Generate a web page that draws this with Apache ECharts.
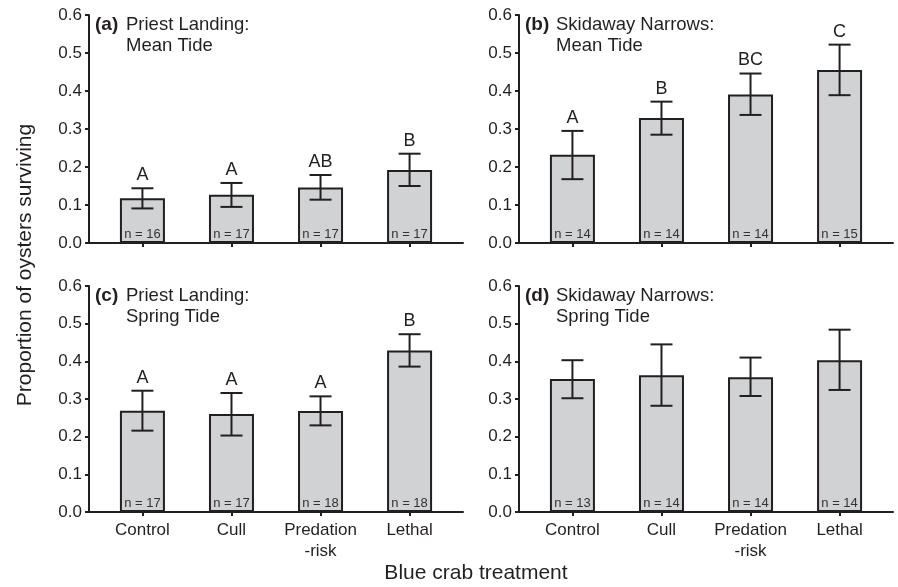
<!DOCTYPE html>
<html>
<head>
<meta charset="utf-8">
<script src="https://cdn.jsdelivr.net/npm/echarts@6/dist/echarts.min.js"></script>
<style>html,body{margin:0;padding:0;background:#fff;}#c{width:898px;height:587px;}</style>
</head>
<body>
<div id="c"></div>
<script>
const categories = ['Control', 'Cull', 'Predation\n-risk', 'Lethal'];
const yTicks = [0, 0.1, 0.2, 0.3, 0.4, 0.5, 0.6];

// (a) Priest Landing: Mean Tide
const meanA = [0.118, 0.127, 0.146, 0.192];
const lowA  = [0.091, 0.095, 0.114, 0.150];
const highA = [0.144, 0.158, 0.179, 0.235];
const lettersA = ['A', 'A', 'AB', 'B'];
const nA = [16, 17, 17, 17];

// (b) Skidaway Narrows: Mean Tide
const meanB = [0.232, 0.329, 0.391, 0.455];
const lowB  = [0.168, 0.285, 0.337, 0.389];
const highB = [0.295, 0.372, 0.446, 0.522];
const lettersB = ['A', 'B', 'BC', 'C'];
const nB = [14, 14, 14, 15];

// (c) Priest Landing: Spring Tide
const meanC = [0.269, 0.260, 0.268, 0.429];
const lowC  = [0.216, 0.203, 0.230, 0.386];
const highC = [0.322, 0.316, 0.307, 0.472];
const lettersC = ['A', 'A', 'A', 'B'];
const nC = [17, 17, 18, 18];

// (d) Skidaway Narrows: Spring Tide
const meanD = [0.353, 0.363, 0.358, 0.403];
const lowD  = [0.302, 0.282, 0.308, 0.324];
const highD = [0.403, 0.445, 0.410, 0.484];
const lettersD = ['', '', '', ''];
const nD = [13, 14, 14, 14];

const panelTags = ['(a)', '(b)', '(c)', '(d)'];
const panelTitles = ['Priest Landing:\nMean Tide', 'Skidaway Narrows:\nMean Tide', 'Priest Landing:\nSpring Tide', 'Skidaway Narrows:\nSpring Tide'];

const FONT = 'Liberation Sans, Arial, Helvetica, sans-serif';
const INK = '#231f20';

const panels = [
  {mean: meanA, low: lowA, high: highA, letters: lettersA, n: nA},
  {mean: meanB, low: lowB, high: highB, letters: lettersB, n: nB},
  {mean: meanC, low: lowC, high: highC, letters: lettersC, n: nC},
  {mean: meanD, low: lowD, high: highD, letters: lettersD, n: nD}
];

const gridPos = [
  {left: 89, top: 15, width: 374, height: 228},
  {left: 519, top: 15, width: 374, height: 228},
  {left: 89, top: 286, width: 374, height: 226},
  {left: 519, top: 286, width: 374, height: 226}
];

const catIdx = categories.map((c, i) => i);

const grid = gridPos.map(g => Object.assign({containLabel: false}, g));
const xAxis = gridPos.map((g, k) => ({
  type: 'value', gridIndex: k, min: -0.6, max: 3.6,
  splitLine: {show: false},
  axisLine: {show: true, onZero: false, lineStyle: {color: INK, width: 2}},
  axisTick: {show: true, customValues: catIdx, length: 4, inside: false, lineStyle: {color: INK, width: 2}},
  axisLabel: {show: k >= 2, customValues: catIdx, formatter: v => categories[Math.round(v)],
    fontFamily: FONT, fontSize: 17, color: INK, lineHeight: 21, margin: 8}
}));
const yAxis = gridPos.map((g, k) => ({
  type: 'value', gridIndex: k, min: 0, max: 0.6, interval: 0.1,
  splitLine: {show: false},
  axisLine: {show: true, onZero: false, lineStyle: {color: INK, width: 2}},
  axisTick: {show: true, length: 4, lineStyle: {color: INK, width: 2}},
  axisLabel: {fontFamily: FONT, fontSize: 17, color: INK, margin: 7, formatter: v => v.toFixed(1)}
}));

const series = [];
panels.forEach((p, k) => {
  series.push({
    type: 'bar', xAxisIndex: k, yAxisIndex: k, barWidth: 45,
    data: p.mean.map((v, i) => [i, v]),
    itemStyle: {color: '#d1d2d4', borderColor: INK, borderWidth: 2},
    label: {show: true, position: 'insideBottom', distance: 2,
      formatter: prm => 'n = ' + p.n[prm.dataIndex],
      fontFamily: FONT, fontSize: 13, color: '#333'},
    silent: true, z: 2
  });
  series.push({
    type: 'custom', xAxisIndex: k, yAxisIndex: k, z: 5, silent: true,
    data: p.mean.map((v, i) => [i, p.low[i], p.high[i]]),
    renderItem: (params, api) => {
      const x = api.value(0);
      const pHi = api.coord([x, api.value(2)]);
      const pLo = api.coord([x, api.value(1)]);
      const half = 11;
      const st = {stroke: INK, lineWidth: 2};
      const children = [
        {type: 'line', shape: {x1: pHi[0], y1: pHi[1], x2: pLo[0], y2: pLo[1]}, style: st},
        {type: 'line', shape: {x1: pHi[0] - half, y1: pHi[1], x2: pHi[0] + half, y2: pHi[1]}, style: st},
        {type: 'line', shape: {x1: pLo[0] - half, y1: pLo[1], x2: pLo[0] + half, y2: pLo[1]}, style: st}
      ];
      const letter = p.letters[params.dataIndex];
      if (letter) {
        children.push({type: 'text', style: {text: letter, x: pHi[0], y: pHi[1] - 4,
          textAlign: 'center', textVerticalAlign: 'bottom', fontFamily: FONT, fontSize: 18, fill: INK}});
      }
      return {type: 'group', children};
    }
  });
});

const title = [];
gridPos.forEach((g, k) => {
  title.push({text: panelTags[k], left: g.left + 6, top: g.top - 1, padding: 0,
    textStyle: {fontFamily: FONT, fontSize: 19, fontWeight: 'bold', color: INK, lineHeight: 21}});
  title.push({text: panelTitles[k], left: g.left + 37, top: g.top - 1, padding: 0,
    textStyle: {fontFamily: FONT, fontSize: 18.5, fontWeight: 'normal', color: INK, lineHeight: 21}});
});

const option = {
  animation: false,
  backgroundColor: '#fff',
  title,
  grid, xAxis, yAxis, series,
  graphic: [
    {type: 'text', x: 25, y: 265, rotation: Math.PI / 2, style: {text: 'Proportion of oysters surviving',
      textAlign: 'center', textVerticalAlign: 'middle', fontFamily: FONT, fontSize: 21, fill: INK}},
    {type: 'text', x: 476, y: 573, style: {text: 'Blue crab treatment',
      textAlign: 'center', textVerticalAlign: 'middle', fontFamily: FONT, fontSize: 21, fill: INK}}
  ]
};

const chart = echarts.init(document.getElementById('c'), null, {renderer: 'canvas'});
chart.setOption(option);
</script>
</body>
</html>
